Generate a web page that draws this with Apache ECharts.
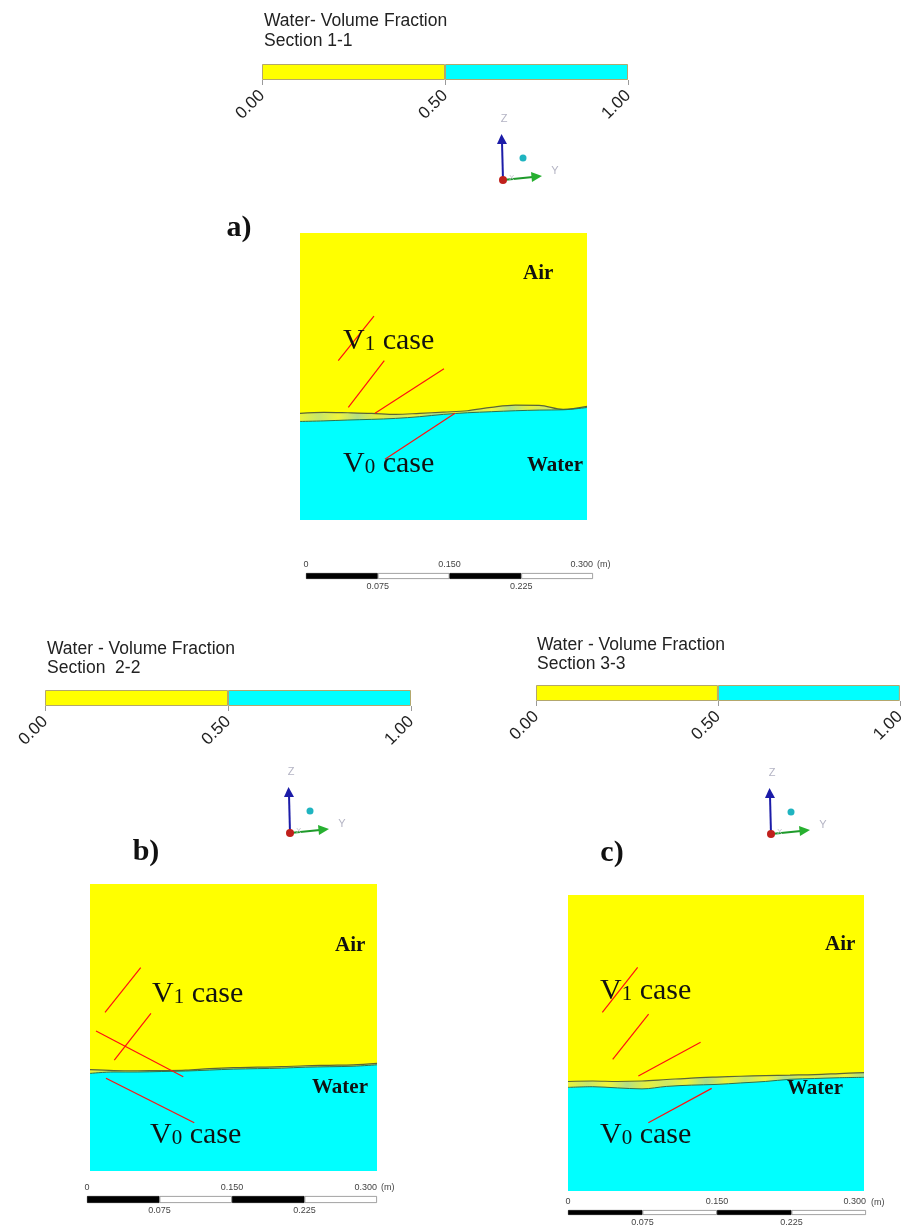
<!DOCTYPE html>
<html>
<head>
<meta charset="utf-8">
<script src="https://cdn.jsdelivr.net/npm/echarts@6/dist/echarts.min.js"></script>
<style>
  html, body { margin: 0; padding: 0; background: #ffffff; }
  #chart { width: 908px; height: 1227px; }
</style>
</head>
<body>
<div id="chart"></div>
<script>
// ---- data -------------------------------------------------------------
// colour-map levels of the water volume fraction legend
const fractionLevels = [0.0, 0.5, 1.0];
const legendTitles = ['Water- Volume Fraction', 'Water - Volume Fraction', 'Water - Volume Fraction'];
const sectionNames = ['Section 1-1', 'Section  2-2', 'Section 3-3'];
const panelTags = ['a)', 'b)', 'c)'];

// length scale bar (m)
const scaleTicks = [0, 0.075, 0.150, 0.225, 0.300];
const scaleTopLabels = [0, 0.150, 0.300];
const scaleBottomLabels = [0.075, 0.225];

// stations across the section (m)
const stationX = [0, 0.025, 0.05, 0.075, 0.1, 0.125, 0.15, 0.175, 0.2, 0.225, 0.25, 0.275, 0.3];

// free-surface elevations (m): upper edge = V1 case, lower edge = V0 case
const upperA = [0.1115, 0.1125, 0.1121, 0.1115, 0.1104, 0.1115, 0.1128, 0.1142, 0.1177, 0.1200, 0.1198, 0.1156, 0.1188];
const lowerA = [0.1030, 0.1036, 0.1045, 0.1052, 0.1062, 0.1080, 0.1104, 0.1121, 0.1132, 0.1142, 0.1149, 0.1152, 0.1176];

const upperB = [0.1060, 0.1050, 0.1048, 0.1050, 0.1055, 0.1070, 0.1080, 0.1085, 0.1090, 0.1100, 0.1105, 0.1110, 0.1125];
const lowerB = [0.1020, 0.1035, 0.1035, 0.1040, 0.1045, 0.1055, 0.1065, 0.1070, 0.1075, 0.1085, 0.1090, 0.1095, 0.1110];

const upperC = [0.1110, 0.1115, 0.1110, 0.1115, 0.1130, 0.1145, 0.1155, 0.1163, 0.1170, 0.1175, 0.1180, 0.1190, 0.1200];
const lowerC = [0.1050, 0.1057, 0.1045, 0.1035, 0.1060, 0.1073, 0.1080, 0.1095, 0.1110, 0.1132, 0.1140, 0.1148, 0.1152];

// leader segments (m, m) pointing at the two surfaces
const leadersA = [
  [[0.040, 0.1665], [0.0773, 0.2132]],
  [[0.0505, 0.1178], [0.0881, 0.1665]],
  [[0.0784, 0.1115], [0.1505, 0.1581]],
  [[0.0888, 0.0634], [0.1620, 0.1115]]
];
const leadersB = [
  [[0.0157, 0.1658], [0.0530, 0.2125]],
  [[0.0254, 0.1160], [0.0637, 0.1648]],
  [[0.0063, 0.1463], [0.0975, 0.0985]],
  [[0.0167, 0.0969], [0.1090, 0.0505]]
];
const leadersC = [
  [[0.0348, 0.1810], [0.0706, 0.2266]],
  [[0.0453, 0.1334], [0.0817, 0.1793]],
  [[0.0713, 0.1165], [0.1344, 0.1507]],
  [[0.0814, 0.0692], [0.1456, 0.1040]]
];

const surfaces = [
  { upper: upperA, lower: lowerA, leaders: leadersA },
  { upper: upperB, lower: lowerB, leaders: leadersB },
  { upper: upperC, lower: lowerC, leaders: leadersC }
];

// ---- layout & style ---------------------------------------------------
const SERIF = "'Liberation Serif','Times New Roman',serif";
const SANS = "'Liberation Sans',Arial,sans-serif";
const YELLOW = '#ffff00';
const CYAN = '#00ffff';
const fractionColours = [YELLOW, CYAN];

const layout = [
  {
    bar: { left: 262, top: 64, w: 366, h: 16 }, title: [264, 21, 41],
    triad: [503, 180], tag: [239, 228],
    panel: { left: 300, top: 233, size: 287 },
    scale: { left: 306, top: 573, w: 287, h: 6 }, unit: [597, 565],
    text: { air: [523, 274], water: [527, 466], v1: [343, 341], v0: [343, 464] }
  },
  {
    bar: { left: 45, top: 690, w: 366, h: 16 }, title: [47, 649, 668],
    triad: [290, 833], tag: [146, 852],
    panel: { left: 90, top: 884, size: 287 },
    scale: { left: 87, top: 1196, w: 290, h: 7 }, unit: [381, 1188],
    text: { air: [335, 946], water: [312, 1088], v1: [152, 994], v0: [150, 1135] }
  },
  {
    bar: { left: 536, top: 685, w: 367, h: 16 }, title: [537, 645, 664],
    triad: [771, 834], tag: [612, 853],
    panel: { left: 568, top: 895, size: 296 },
    scale: { left: 568, top: 1210, w: 298, h: 6 }, unit: [871, 1203],
    text: { air: [825, 945], water: [787, 1089], v1: [600, 991], v0: [600, 1135] }
  }
];

// yellow/green mottling of the mixed layer between the two surfaces
const bandPalette = ['#e9f33a', '#c6e66c', '#f0f53c', '#b4df84', '#e4f03e', '#cde866', '#eef43a', '#a9dc8c'];
function bandGradient(n) {
  const stops = [];
  for (let k = 0; k < n; k++) {
    stops.push({ offset: k / (n - 1), color: bandPalette[k % bandPalette.length] });
  }
  return new echarts.graphic.LinearGradient(0, 0, 1, 0, stops);
}

function sameTick(v, t) { return Math.abs(v - t) < 1e-6; }
function scaleFormatter(list) {
  return function (v) {
    const hit = list.find(t => sameTick(v, t));
    if (hit === undefined) return '';
    return hit === 0 ? '0' : hit.toFixed(3);
  };
}

const grid = [], xAxis = [], yAxis = [], series = [], graphic = [];

// colour legends: grids 0..2
layout.forEach((L, i) => {
  grid.push({ left: L.bar.left, top: L.bar.top, width: L.bar.w, height: L.bar.h, containLabel: false });
  xAxis.push({
    gridIndex: i, type: 'value', min: fractionLevels[0], max: fractionLevels[fractionLevels.length - 1],
    interval: 0.5,
    axisLine: { show: false }, splitLine: { show: false },
    axisTick: { show: true, length: 5, lineStyle: { color: '#9a9a9a', width: 1 } },
    axisLabel: { rotate: 45, fontSize: 17, fontFamily: SANS, color: '#222', margin: 13,
                 formatter: v => v.toFixed(2) }
  });
  yAxis.push({ gridIndex: i, type: 'category', data: ['f'], show: false });
  for (let k = 0; k < fractionLevels.length - 1; k++) {
    series.push({
      type: 'bar', xAxisIndex: i, yAxisIndex: i, stack: 'legend' + i, silent: true,
      barWidth: '100%',
      data: [fractionLevels[k + 1] - fractionLevels[k]],
      itemStyle: { color: fractionColours[k], borderColor: '#b3a76c', borderWidth: 1 }
    });
  }
});

// contour panels: grids 3..5
layout.forEach((L, i) => {
  const gi = 3 + i;
  const S = surfaces[i];
  grid.push({ left: L.panel.left, top: L.panel.top, width: L.panel.size, height: L.panel.size,
              show: true, backgroundColor: YELLOW, borderWidth: 0 });
  xAxis.push({ gridIndex: gi, type: 'value', min: 0, max: 0.3, show: false });
  yAxis.push({ gridIndex: gi, type: 'value', min: 0, max: 0.3, show: false });
  // mixed layer up to the upper surface
  series.push({
    type: 'line', xAxisIndex: gi, yAxisIndex: gi, silent: true, symbol: 'none', smooth: 0.35,
    data: stationX.map((x, k) => [x, S.upper[k]]),
    lineStyle: { color: '#5b6536', width: 1.2 },
    areaStyle: { origin: 'start', color: bandGradient(16), opacity: 1 }
  });
  // water body below the lower surface
  series.push({
    type: 'line', xAxisIndex: gi, yAxisIndex: gi, silent: true, symbol: 'none', smooth: 0.35,
    data: stationX.map((x, k) => [x, S.lower[k]]),
    lineStyle: { color: '#2f6f4c', width: 1 },
    areaStyle: { origin: 'start', color: CYAN, opacity: 1 }
  });
  // red leader lines
  series.push({
    type: 'lines', coordinateSystem: 'cartesian2d', xAxisIndex: gi, yAxisIndex: gi, silent: true, z: 5,
    data: S.leaders.map(seg => ({ coords: seg })),
    lineStyle: { color: '#ff1010', width: 1.2, opacity: 1, curveness: 0 }
  });
});

// scale bars: grids 6..8
layout.forEach((L, i) => {
  const gi = 6 + i;
  grid.push({ left: L.scale.left, top: L.scale.top, width: L.scale.w, height: L.scale.h });
  xAxis.push({
    gridIndex: gi, type: 'value', min: scaleTicks[0], max: scaleTicks[scaleTicks.length - 1],
    interval: scaleTicks[1] - scaleTicks[0], position: 'top',
    axisLine: { show: false }, axisTick: { show: false }, splitLine: { show: false },
    axisLabel: { fontSize: 9, fontFamily: SANS, color: '#444', margin: 4,
                 formatter: scaleFormatter(scaleTopLabels), alignMaxLabel: 'right' }
  });
  yAxis.push({ gridIndex: gi, type: 'category', data: ['s'], show: false });
});
layout.forEach((L, i) => {
  const gi = 6 + i;
  xAxis.push({
    gridIndex: gi, type: 'value', min: scaleTicks[0], max: scaleTicks[scaleTicks.length - 1],
    interval: scaleTicks[1] - scaleTicks[0], position: 'bottom',
    axisLine: { show: false }, axisTick: { show: false }, splitLine: { show: false },
    axisLabel: { fontSize: 9, fontFamily: SANS, color: '#444', margin: 3,
                 formatter: scaleFormatter(scaleBottomLabels) }
  });
});
layout.forEach((L, i) => {
  const gi = 6 + i;
  for (let k = 0; k < scaleTicks.length - 1; k++) {
    series.push({
      type: 'bar', xAxisIndex: gi, yAxisIndex: gi, stack: 'scale' + i, silent: true,
      barWidth: '100%',
      data: [scaleTicks[k + 1] - scaleTicks[k]],
      itemStyle: { color: k % 2 === 0 ? '#000000' : '#ffffff',
                   borderColor: k % 2 === 0 ? '#000000' : '#8a8a8a', borderWidth: 0.8 }
    });
  }
});

// ---- annotations ------------------------------------------------------
function plainText(x, y, text, font, size, weight, fill, align) {
  return {
    type: 'text', x: x, y: y, silent: true, z: 10,
    style: { text: text, fontFamily: font, fontSize: size, fontWeight: weight || 'normal',
             fill: fill || '#111', align: align || 'left', verticalAlign: 'middle' }
  };
}
function caseText(x, y, digit) {
  return {
    type: 'text', x: x, y: y, silent: true, z: 10,
    style: {
      text: '{v|V}{s|' + digit + '}{v| case}',
      align: 'left', verticalAlign: 'middle',
      rich: {
        v: { fontFamily: SERIF, fontSize: 30, fill: '#111', verticalAlign: 'bottom' },
        s: { fontFamily: SERIF, fontSize: 21, fill: '#111', verticalAlign: 'bottom', padding: [0, 0, 1, 0] }
      }
    }
  };
}
function triad(ox, oy) {
  const els = [];
  // vertical (Z) arrow
  els.push({ type: 'line', shape: { x1: ox, y1: oy, x2: ox - 1, y2: oy - 38 },
             style: { stroke: '#1c1ca8', lineWidth: 2 } });
  els.push({ type: 'polygon', shape: { points: [[ox - 6, oy - 36], [ox + 4, oy - 36], [ox - 1.5, oy - 46]] },
             style: { fill: '#1c1ca8' } });
  // horizontal (Y) arrow
  els.push({ type: 'line', shape: { x1: ox, y1: oy, x2: ox + 30, y2: oy - 3 },
             style: { stroke: '#1e9a2a', lineWidth: 2 } });
  els.push({ type: 'polygon', shape: { points: [[ox + 28, oy - 8], [ox + 29, oy + 2], [ox + 39, oy - 4]] },
             style: { fill: '#27b030' } });
  // origin and view markers
  els.push({ type: 'circle', shape: { cx: ox, cy: oy, r: 4 }, style: { fill: '#c0201c' } });
  els.push({ type: 'circle', shape: { cx: ox + 20, cy: oy - 22, r: 3.5 }, style: { fill: '#1fb4c0' } });
  els.push({ type: 'text', x: ox + 6, y: oy - 2,
             style: { text: 'X', fontFamily: SANS, fontSize: 8, fill: '#c8c8d0', align: 'left', verticalAlign: 'middle' } });
  els.push({ type: 'text', x: ox + 1, y: oy - 61,
             style: { text: 'Z', fontFamily: SANS, fontSize: 11, fill: '#b4b4c4', align: 'center', verticalAlign: 'middle' } });
  els.push({ type: 'text', x: ox + 52, y: oy - 9,
             style: { text: 'Y', fontFamily: SANS, fontSize: 11, fill: '#b4b4c4', align: 'center', verticalAlign: 'middle' } });
  return { type: 'group', silent: true, z: 10, children: els };
}

layout.forEach((L, i) => {
  graphic.push(plainText(L.title[0], L.title[1], legendTitles[i], SANS, 17.5, 'normal', '#222'));
  graphic.push(plainText(L.title[0], L.title[2], sectionNames[i], SANS, 17.5, 'normal', '#222'));
  graphic.push(triad(L.triad[0], L.triad[1]));
  graphic.push(plainText(L.tag[0], L.tag[1], panelTags[i], SERIF, 30, 'bold', '#111', 'center'));
  graphic.push(plainText(L.text.air[0], L.text.air[1], 'Air', SERIF, 21, 'bold', '#111'));
  graphic.push(plainText(L.text.water[0], L.text.water[1], 'Water', SERIF, 21, 'bold', '#111'));
  graphic.push(caseText(L.text.v1[0], L.text.v1[1], '1'));
  graphic.push(caseText(L.text.v0[0], L.text.v0[1], '0'));
  graphic.push(plainText(L.unit[0], L.unit[1], '(m)', SANS, 9, 'normal', '#444'));
});

const chart = echarts.init(document.getElementById('chart'), null, { renderer: 'canvas' });
chart.setOption({
  animation: false,
  backgroundColor: '#ffffff',
  grid: grid,
  xAxis: xAxis,
  yAxis: yAxis,
  series: series,
  graphic: graphic
});
</script>
</body>
</html>
